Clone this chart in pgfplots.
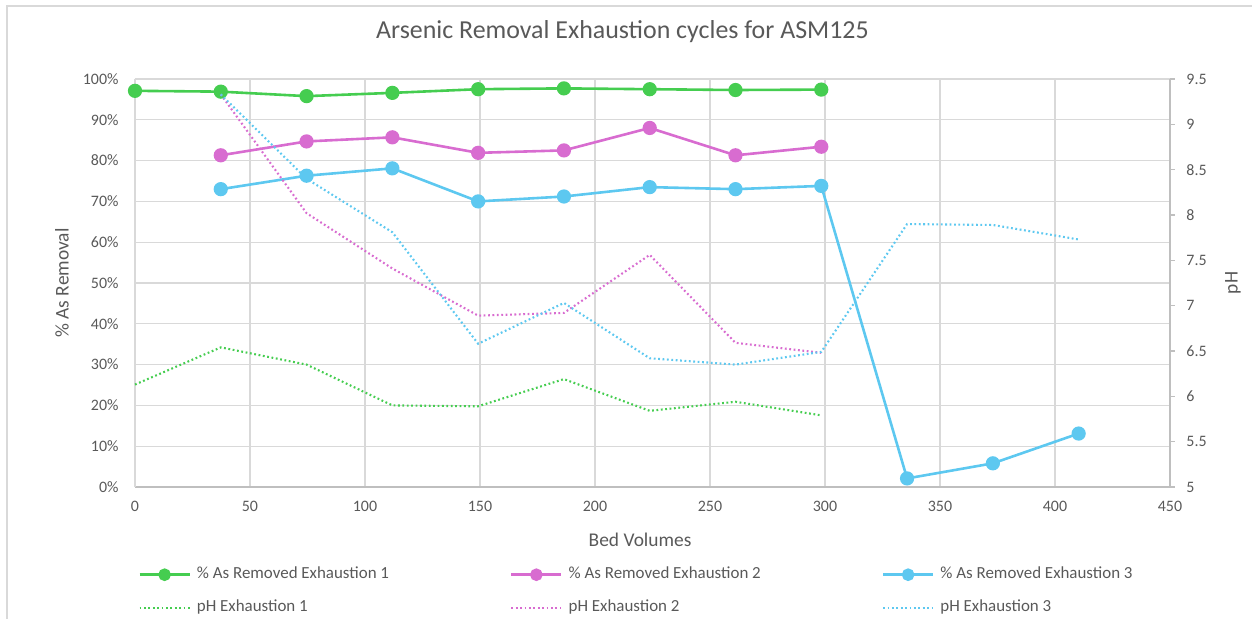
\documentclass[border=0pt]{standalone}
\usepackage{pgfplots}
\pgfplotsset{compat=1.18}
\usepackage{fontspec}
\setmainfont{Carlito}
\definecolor{serG}{HTML}{45CD50}
\definecolor{serM}{HTML}{D86CD0}
\definecolor{serC}{HTML}{5DC8F0}
\definecolor{txt}{HTML}{595959}
\definecolor{grd}{HTML}{D9D9D9}
\definecolor{axl}{HTML}{BFBFBF}
\pgfplotsset{
  /pgf/number format/assume math mode=true,
  solidser/.style={line width=2.6bp, mark=*, mark size=5.8bp, mark options={solid}},
  dotser/.style={line width=2.1bp, dash pattern=on 1.8bp off 2.6bp, mark=none},
  legend image code/.code={\draw[mark repeat=2,mark phase=2,#1] plot coordinates {(0bp,0bp) (25bp,0bp) (50bp,0bp)};},
}
\begin{document}
\begin{tikzpicture}
\path[use as bounding box] (-135bp,-132bp) rectangle (1117bp,487bp);
\draw[grd, line width=1.2bp] (-128bp,-132bp) -- (-128bp,481bp) -- (1117bp,481bp);
\begin{axis}[
  scale only axis,
  width=1035bp, height=408bp,
  xmin=0, xmax=450, ymin=0, ymax=100,
  xtick={0,50,...,450}, ytick={0,10,...,100},
  yticklabel={\pgfmathprintnumber{\tick}\%},
  grid=major, grid style={grd, line width=1.1bp},
  axis x line*=bottom, axis y line*=left,
  x axis line style={axl, line width=1.3bp, -},
  y axis line style={grd, line width=1.1bp, -},
  major tick length=0pt,
  tick label style={font=\fontsize{16}{18}\selectfont, text=txt},
  xticklabel style={yshift=-11bp},
  yticklabel style={xshift=-13bp},
  every axis y label/.style={at={(axis description cs:-0.0705,0.5)}, rotate=90, anchor=center},
  every axis x label/.style={at={(axis description cs:0.488,-0.13)}, anchor=center},
  label style={font=\fontsize{19.5}{22}\selectfont, text=txt},
  ylabel={\% As Removal},
  xlabel={Bed Volumes},
  title={Arsenic Removal Exhaustion cycles for ASM125},
  title style={at={(axis description cs:0.471,1.1005)}, anchor=center, font=\fontsize{26}{30}\selectfont, text=txt},
  clip=false,
]
\addplot[solidser, serG] coordinates {
(0,97.1) (37.3,96.9) (74.6,95.8) (111.9,96.6) (149.2,97.5) (186.5,97.7) (223.8,97.5) (261.1,97.3) (298.4,97.4)};
\addplot[solidser, serM] coordinates {
(37.3,81.3) (74.6,84.7) (111.9,85.7) (149.2,81.9) (186.5,82.5) (223.8,88.0) (261.1,81.3) (298.4,83.4)};
\addplot[solidser, serC] coordinates {
(37.3,73.0) (74.6,76.3) (111.9,78.1) (149.2,70.0) (186.5,71.2) (223.8,73.5) (261.1,73.0) (298.4,73.8) (335.7,2.1) (373,5.8) (410.3,13.1)};
\end{axis}
\begin{axis}[
  scale only axis,
  width=1035bp, height=408bp,
  xmin=0, xmax=450, ymin=5, ymax=9.5,
  ytick={5,5.5,...,9.5},
  axis x line=none, axis y line*=right,
  y axis line style={axl, line width=1.3bp, -},
  ytick style={axl, line width=1.3bp},
  tick align=outside, major tick length=5bp,
  tick label style={font=\fontsize{16}{18}\selectfont, text=txt},
  yticklabel style={xshift=8bp},
  every axis y label/.style={at={(axis description cs:1.0609,0.5)}, rotate=90, anchor=center},
  label style={font=\fontsize{19.5}{22}\selectfont, text=txt},
  ylabel={pH},
  clip=false,
  legend columns=3,
  legend cell align=left,
  legend style={at={(axis description cs:0.003,-0.1949)}, anchor=north west, draw=none, fill=none,
    font=\fontsize{17}{19}\selectfont, text=txt, inner sep=0pt, row sep=17bp,
    nodes={inner sep=1bp, text height=11bp, text depth=3bp},
    /tikz/every odd column/.append style={column sep=5bp},
    /tikz/every even column/.append style={column sep=120bp}},
]
\addlegendimage{solidser, serG, mark size=5bp}
\addlegendentry{\% As Removed Exhaustion 1}
\addlegendimage{solidser, serM, mark size=5bp}
\addlegendentry{\% As Removed Exhaustion 2}
\addlegendimage{solidser, serC, mark size=5bp}
\addlegendentry{\% As Removed Exhaustion 3}
\addplot[dotser, serG] coordinates {
(0,6.13) (37.3,6.54) (74.6,6.35) (111.9,5.90) (149.2,5.89) (186.5,6.19) (223.8,5.84) (261.1,5.94) (298.4,5.79)};
\addlegendentry{pH Exhaustion 1}
\addplot[dotser, serM] coordinates {
(37.3,9.33) (74.6,8.02) (111.9,7.41) (149.2,6.89) (186.5,6.92) (223.8,7.56) (261.1,6.59) (298.4,6.48)};
\addlegendentry{pH Exhaustion 2}
\addplot[dotser, serC] coordinates {
(37.3,9.33) (74.6,8.40) (111.9,7.81) (149.2,6.58) (186.5,7.03) (223.8,6.42) (261.1,6.35) (298.4,6.49) (335.7,7.90) (373,7.89) (410.3,7.73)};
\addlegendentry{pH Exhaustion 3}
\end{axis}
\end{tikzpicture}
\end{document}
